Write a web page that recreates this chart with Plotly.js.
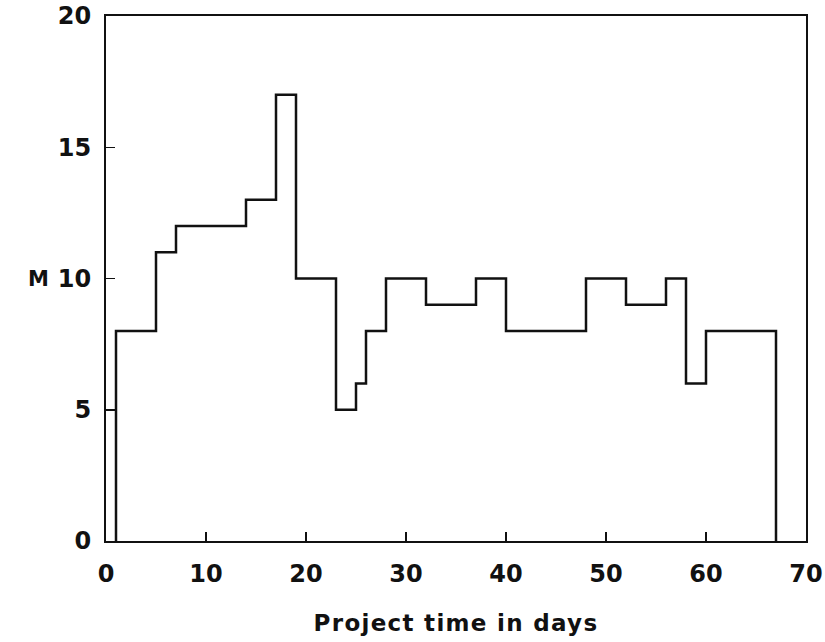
<!DOCTYPE html>
<html>
<head>
<meta charset="utf-8">
<script src="https://cdn.plot.ly/plotly-3.0.1.min.js"></script>
<style>html,body{margin:0;padding:0;background:#fff;}#chart{width:825px;height:642px;}
.xtitle{letter-spacing:1.3px;}</style>
</head>
<body>
<div id="chart"></div>
<script>
// Step profile: day at which each level begins, and the level M from that day
var days = [1, 1, 5, 7, 14, 17, 19, 23, 25, 26, 28, 32, 37, 40, 48, 52, 56, 58, 60, 67];
var mValues = [0, 8, 11, 12, 13, 17, 10, 5, 6, 8, 10, 9, 10, 8, 10, 9, 10, 6, 8, 0];
var xTicks = [0, 10, 20, 30, 40, 50, 60, 70];
var yTicks = [0, 5, 10, 15, 20];

var fam = 'DejaVu Sans, Liberation Sans, Arial, sans-serif';
var ink = '#111';

var trace = {
  x: days, y: mValues, type: 'scatter', mode: 'lines',
  line: {shape: 'hv', color: ink, width: 2.5},
  hoverinfo: 'skip'
};

var layout = {
  width: 825, height: 642,
  margin: {l: 106, r: 19, t: 16, b: 101},
  paper_bgcolor: '#fff', plot_bgcolor: '#fff',
  showlegend: false,
  font: {family: fam, size: 24, color: ink},
  xaxis: {
    range: [0, 70], tickvals: xTicks, ticktext: xTicks.map(String),
    ticks: 'inside', ticklen: 9, tickwidth: 1.5, tickcolor: ink,
    showline: true, linewidth: 2, linecolor: ink, mirror: true,
    showgrid: false, zeroline: false,
    tickfont: {family: fam, size: 24, color: ink, weight: 'bold'},
    ticklabelstandoff: 10,
    title: {text: 'Project time in days', font: {family: fam, size: 23, color: ink, weight: 'bold'}, standoff: 28}
  },
  yaxis: {
    range: [0, 20], tickvals: yTicks, ticktext: yTicks.map(String),
    ticks: 'inside', ticklen: 9, tickwidth: 1.5, tickcolor: ink,
    showline: true, linewidth: 2, linecolor: ink, mirror: true,
    showgrid: false, zeroline: false,
    tickfont: {family: fam, size: 24, color: ink, weight: 'bold'},
    ticklabelstandoff: 8
  },
  annotations: [{
    text: 'M', xref: 'paper', yref: 'y', x: 0, y: 10, xanchor: 'right', yanchor: 'middle',
    xshift: -55, showarrow: false,
    font: {family: fam, size: 21, color: ink, weight: 'bold'}
  }]
};

Plotly.newPlot('chart', [trace], layout, {staticPlot: true, displayModeBar: false});
</script>
</body>
</html>
